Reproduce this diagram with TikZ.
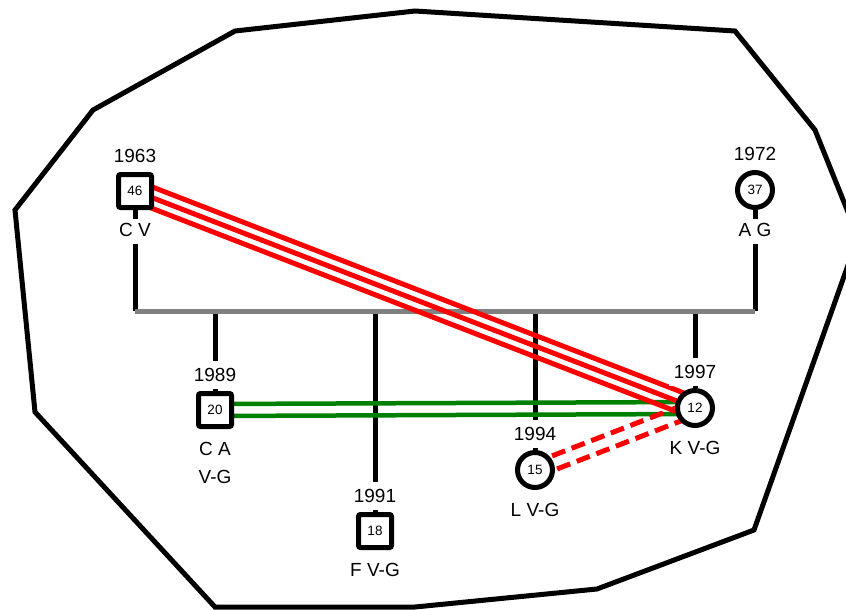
\documentclass[tikz,border=0pt]{standalone}
\usepackage{fontspec}
\setmainfont{Liberation Sans}
\usetikzlibrary{positioning,calc,backgrounds}
\newcommand{\lblsize}{\fontsize{19}{28}\selectfont}
\newcommand{\numsize}{\fontsize{13.5}{16}\selectfont}
\definecolor{bargray}{RGB}{128,128,128}
\definecolor{tiegreen}{RGB}{0,128,0}

\begin{document}
\begin{tikzpicture}[x=1pt, y=-1pt,
    male/.style={draw, fill=white, line width=5pt, rounded corners=2pt, minimum size=33pt, inner sep=0pt, font=\numsize},
    female/.style={draw, fill=white, circle, line width=5pt, minimum size=35pt, inner sep=0pt, font=\numsize},
    year/.style={fill=white, inner xsep=5pt, inner ysep=3pt, text height=18pt, text depth=4pt, font=\lblsize},
    who/.style={fill=white, align=center, inner xsep=5pt, inner ysep=3pt, text height=14pt, text depth=5pt, font=\lblsize},
    hull/.style={line width=5pt},
    kin/.style={line width=5pt},
    bar/.style={line width=5pt, bargray},
    tie/.style={line width=4.5pt, tiegreen},
    feud/.style={line width=5pt, red},
    broken/.style={line width=5pt, red, dash pattern=on 14pt off 7pt}]
    \useasboundingbox (0,0) rectangle (846,610);

    % persons
    \node[male] (cv) at (135,191) {46};
    \node[female] (ag) at (755,190) {37};
    \node[male] (ca) at (215,410) {20};
    \node[male] (fv) at (375,531) {18};
    \node[female] (lv) at (535,470) {15};
    \node[female] (kv) at (695,408) {12};

    \node[year, above=2pt of cv] (cvy) {1963};
    \node[year, above=2pt of ag] (agy) {1972};
    \node[year, above=2pt of ca] (cay) {1989};
    \node[year, above=2pt of fv] (fvy) {1991};
    \node[year, above=2pt of lv] (lvy) {1994};
    \node[year, above=2pt of kv] (kvy) {1997};

    \node[who, below=9pt of cv] (cvn) {C V};
    \node[who, below=9pt of ag] (agn) {A G};
    \node[who, below=10pt of ca, text height=, text depth=] (can) {C A\\V-G};
    \node[who, below=9pt of fv] (fvn) {F V-G};
    \node[who, below=9pt of lv] (lvn) {L V-G};
    \node[who, below=9pt of kv] (kvn) {K V-G};

    \begin{scope}[on background layer]
        \draw[hull] (93,110) -- (235,31) -- (415,11) -- (735,31) -- (815,130) -- (858,237)
            -- (754,530) -- (597,589) -- (415,607) -- (215,607) -- (35,412) -- (15,210) -- cycle;

        \coordinate (bl) at (135,311);
        \coordinate (br) at (755,311);
        \draw[kin] (cv) -- (cv |- bl);
        \draw[kin] (ag) -- (ag |- br);
        \draw[kin] (ca) -- (ca |- bl);
        \draw[kin] (fv) -- (fv |- bl);
        \draw[kin] (lv) -- (lv |- bl);
        \draw[kin] (kv) -- (kv |- bl);
        \draw[bar] (bl) -- (br);

        \draw[tie] ([yshift=6pt]ca.center) -- ([yshift=6pt]kv.center);
        \draw[tie] ([yshift=-6pt]ca.center) -- ([yshift=-6pt]kv.center);

        \draw[feud] ($(cv)!10pt!90:(kv)$) -- ($(kv)!10pt!-90:(cv)$);
        \draw[feud] (cv.center) -- (kv.center);
        \draw[feud] ($(cv)!10pt!-90:(kv)$) -- ($(kv)!10pt!90:(cv)$);

        \draw[broken] ($(lv)!7pt!90:(kv)$) -- ($(kv)!7pt!-90:(lv)$);
        \draw[broken] ($(lv)!7pt!-90:(kv)$) -- ($(kv)!7pt!90:(lv)$);
    \end{scope}
\end{tikzpicture}
\end{document}
